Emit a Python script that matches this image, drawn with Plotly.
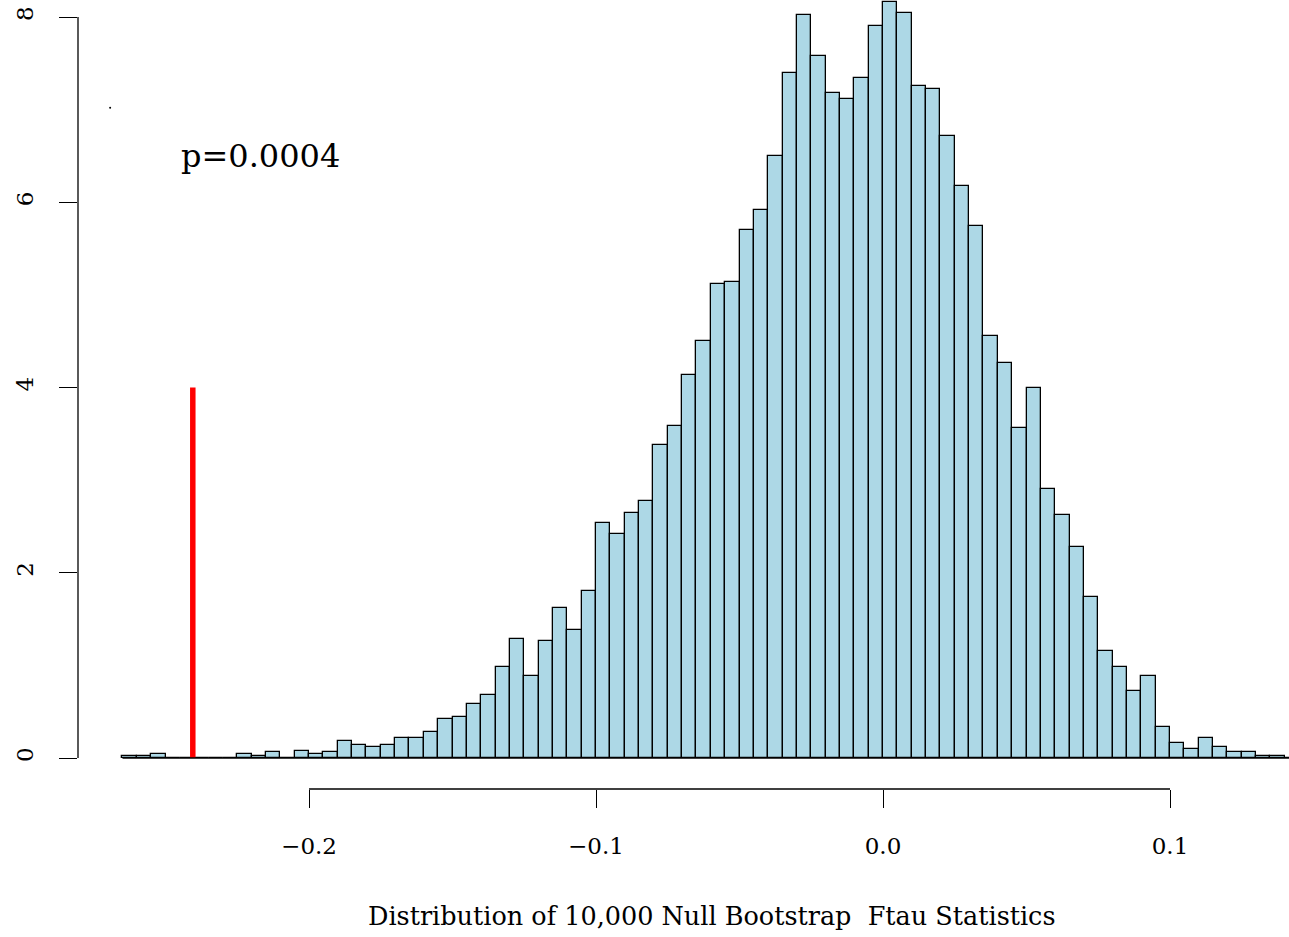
import plotly.graph_objects as go

# ---- data (density histogram, bin width 0.005, first bin starts at -0.265) ----
bin_start = -0.265
bin_width = 0.005
densities = [
    0.02, 0.02, 0.04, 0.00, 0.00, 0.00, 0.00, 0.00, 0.04, 0.02,
    0.06, 0.00, 0.08, 0.04, 0.06, 0.18, 0.14, 0.12, 0.14, 0.22,
    0.22, 0.28, 0.42, 0.44, 0.58, 0.68, 0.98, 1.28, 0.88, 1.26,
    1.62, 1.38, 1.80, 2.54, 2.42, 2.64, 2.78, 3.38, 3.58, 4.14,
    4.50, 5.12, 5.14, 5.70, 5.92, 6.50, 7.40, 8.02, 7.58, 7.18,
    7.12, 7.34, 7.90, 8.16, 8.04, 7.26, 7.22, 6.72, 6.18, 5.74,
    4.56, 4.26, 3.56, 4.00, 2.90, 2.62, 2.28, 1.74, 1.16, 0.98,
    0.72, 0.88, 0.34, 0.16, 0.10, 0.22, 0.12, 0.06, 0.06, 0.02,
    0.02, 0.00, 0.00,
]
observed_stat = -0.2405
observed_line_top = 4
p_label = "p=0.0004"
p_label_pos = (-0.217, 6.5)
stray_point = (-0.2693, 7.02)

x_tickvals = [-0.2, -0.1, 0.0, 0.1]
x_ticktext = ["\u22120.2", "\u22120.1", "0.0", "0.1"]
y_tickvals = [0, 2, 4, 6, 8]
y_ticktext = ["0", "2", "4", "6", "8"]
x_label = "Distribution of 10,000 Null Bootstrap\u00a0\u00a0Ftau Statistics"

bin_centers = [bin_start + bin_width * (i + 0.5) for i in range(len(densities))]
bin_end = bin_start + bin_width * len(densities)

FONT = "DejaVu Serif"

fig = go.Figure()
fig.add_trace(go.Bar(
    x=bin_centers, y=densities, width=bin_width,
    marker=dict(color="#ADD8E6", line=dict(color="black", width=1.3)),
    hoverinfo="x+y", showlegend=False,
))
fig.add_trace(go.Scatter(
    x=[observed_stat, observed_stat], y=[0, observed_line_top], mode="lines",
    line=dict(color="#FF0000", width=5.5), showlegend=False,
))
fig.add_trace(go.Scatter(
    x=[stray_point[0]], y=[stray_point[1]], mode="markers",
    marker=dict(color="black", size=2), showlegend=False,
))

# baseline under zero-height bins
fig.add_shape(type="line", xref="x", yref="y", x0=bin_start, x1=bin_end, y0=0, y1=0,
              line=dict(color="black", width=1.3))
# R-style axis lines spanning only the tick range
fig.add_shape(type="line", xref="x", yref="paper", x0=x_tickvals[0], x1=x_tickvals[-1],
              y0=0, y1=0, line=dict(color="black", width=1.3))
fig.add_shape(type="line", xref="paper", yref="y", x0=0, x1=0,
              y0=y_tickvals[0], y1=y_tickvals[-1], line=dict(color="black", width=1.3))

fig.add_annotation(x=p_label_pos[0], y=p_label_pos[1], text=p_label, showarrow=False,
                   xanchor="center", yanchor="middle",
                   font=dict(family=FONT, size=32, color="black"))
fig.add_annotation(x=(712 - 78) / 1211, y=-127 / 789, xref="paper", yref="paper",
                   text=x_label, showarrow=False, xanchor="center", yanchor="middle",
                   font=dict(family=FONT, size=25.5, color="black"))

fig.update_layout(
    width=1289, height=937,
    margin=dict(l=78, r=0, t=0, b=148),
    paper_bgcolor="white", plot_bgcolor="white",
    bargap=0, showlegend=False,
    font=dict(family=FONT, color="black"),
    xaxis=dict(range=[-0.2805, 0.14146], tickvals=x_tickvals, ticktext=x_ticktext,
               ticks="outside", ticklen=18, tickwidth=1.3, tickcolor="black",
               showline=False, showgrid=False, zeroline=False,
               tickfont=dict(family=FONT, size=23, color="black"),
               ticklabelstandoff=18),
    yaxis=dict(range=[-0.3347, 8.1835], tickvals=y_tickvals, ticktext=y_ticktext,
               ticks="outside", ticklen=18, tickwidth=1.3, tickcolor="black",
               tickangle=-90, showline=False, showgrid=False, zeroline=False,
               tickfont=dict(family=FONT, size=23, color="black"),
               ticklabelstandoff=17),
)

fig.write_html("out.html", config={"displayModeBar": False},
               post_script="document.body.style.margin='0';document.body.style.overflow='hidden';")
